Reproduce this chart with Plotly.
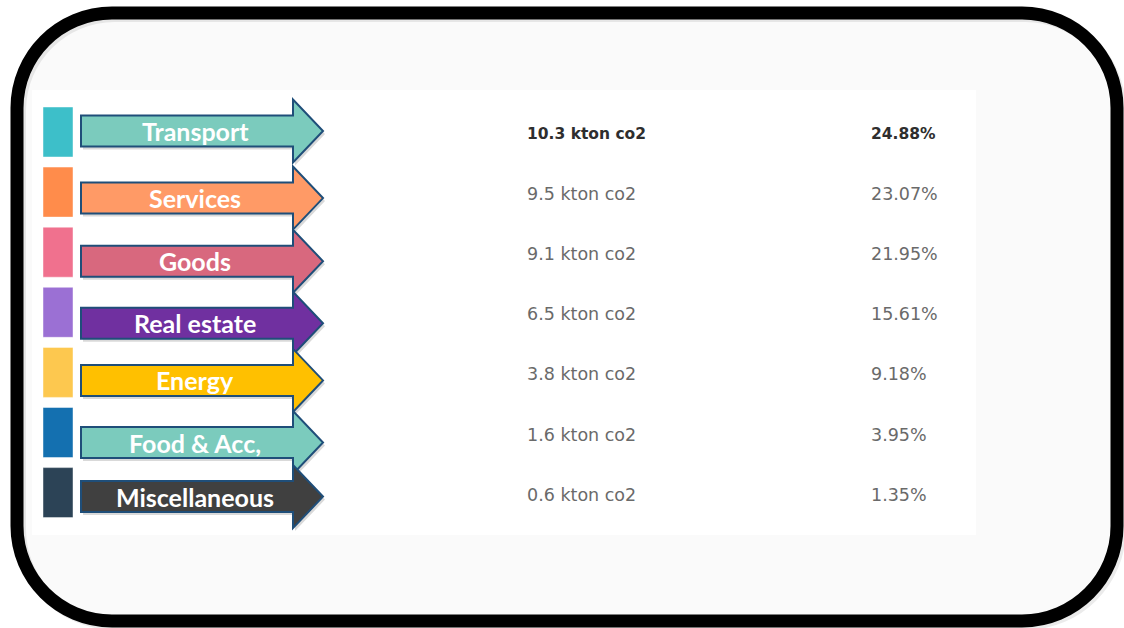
import plotly.graph_objects as go

# ---------------- data ----------------
categories = ["Transport", "Services", "Goods", "Real estate", "Energy", "Food & Acc,", "Miscellaneous"]
emissions_kton = [10.3, 9.5, 9.1, 6.5, 3.8, 1.6, 0.6]
shares_pct = [24.88, 23.07, 21.95, 15.61, 9.18, 3.95, 1.35]
square_colors = ["#3dbfc9", "#ff8c4b", "#f0718e", "#9b70d4", "#fdc84f", "#1470b0", "#2c4356"]
arrow_colors = ["#7bcbbd", "#ff9a66", "#d8687e", "#7030a0", "#ffc000", "#7bcbbd", "#404040"]

# ---------------- layout constants ----------------
W, H = 1124, 628
ROW0, PITCH = 132, 60.1
ARROW_DY = [-1, 6, 9, 11, 8, 10, 4]   # hand-placed arrow offsets
SQ_X0, SQ_X1, SQ_H = 43, 73, 50
AR_X0, AR_HX, AR_TIP, AR_BH, AR_HH = 81, 293, 323, 31, 63
VAL_X, PCT_X = 525, 869


def rrect(x0, y0, x1, y1, r):
    k = 0.5523 * r
    return (f"M{x0+r},{y0} L{x1-r},{y0} C{x1-r+k},{y0} {x1},{y0+r-k} {x1},{y0+r} "
            f"L{x1},{y1-r} C{x1},{y1-r+k} {x1-r+k},{y1} {x1-r},{y1} "
            f"L{x0+r},{y1} C{x0+r-k},{y1} {x0},{y1-r+k} {x0},{y1-r} "
            f"L{x0},{y0+r} C{x0},{y0+r-k} {x0+r-k},{y0} {x0+r},{y0} Z")


def arrow(yc, dx=0, dy=0):
    x0, hx, tip = AR_X0 + dx, AR_HX + dx, AR_TIP + dx
    yc = yc + dy
    b, h = AR_BH / 2, AR_HH / 2
    return (f"M{x0},{yc-b} L{hx},{yc-b} L{hx},{yc-h} L{tip},{yc} "
            f"L{hx},{yc+h} L{hx},{yc+b} L{x0},{yc+b} Z")


shapes = []
# background + frame shadow + black rounded frame
shapes.append(dict(type="path", path=rrect(17, 13, 1117, 621, 95), fillcolor="#fafafa",
                   line=dict(width=0), layer="below"))
shapes.append(dict(type="path", path=rrect(20, 16, 1120, 624, 95), fillcolor="rgba(0,0,0,0)",
                   line=dict(color="rgba(0,0,0,0.08)", width=12), layer="below"))
shapes.append(dict(type="path", path=rrect(17, 13, 1117, 621, 95), fillcolor="rgba(0,0,0,0)",
                   line=dict(color="#000000", width=13), layer="below"))
# white panel
shapes.append(dict(type="rect", x0=32, y0=90, x1=976, y1=535, fillcolor="#ffffff",
                   line=dict(width=0), layer="below"))

annotations = []
for i, cat in enumerate(categories):
    yc = ROW0 + i * PITCH
    # colour square
    shapes.append(dict(type="rect", x0=SQ_X0, x1=SQ_X1, y0=yc - SQ_H / 2, y1=yc + SQ_H / 2,
                       fillcolor=square_colors[i], line=dict(color="rgba(255,255,255,0.45)", width=1)))
for i, cat in enumerate(categories):
    yc = ROW0 + i * PITCH
    ya = yc + ARROW_DY[i]
    # arrow shadow
    shapes.append(dict(type="path", path=arrow(ya, 2, 3), fillcolor="rgba(0,0,0,0.15)",
                       line=dict(width=0)))
    shapes.append(dict(type="path", path=arrow(ya), fillcolor=arrow_colors[i],
                       line=dict(color="#1f4e79", width=2)))
    annotations.append(dict(x=195, y=ya, text=f"<b>{cat}</b>", showarrow=False,
                            xanchor="center", yanchor="middle",
                            font=dict(family="Lato", size=25, color="#ffffff")))
    first = i == 0
    col = "#2e2e2e" if first else "#6a6a6a"
    vtxt = f"{emissions_kton[i]:.1f} kton co2"
    ptxt = f"{shares_pct[i]:.2f}%"
    if first:
        vtxt, ptxt = f"<b>{vtxt}</b>", f"<b>{ptxt}</b>"
    ty = yc + 2
    fsize = 15.5 if first else 17.5
    annotations.append(dict(x=VAL_X, y=ty, text=vtxt, showarrow=False, xanchor="left",
                            yanchor="middle", font=dict(family="DejaVu Sans", size=fsize, color=col)))
    annotations.append(dict(x=PCT_X, y=ty, text=ptxt, showarrow=False, xanchor="left",
                            yanchor="middle", font=dict(family="DejaVu Sans", size=fsize, color=col)))

fig = go.Figure()
fig.add_trace(go.Scatter(x=[0, W], y=[0, H], mode="markers", marker=dict(opacity=0),
                         hoverinfo="skip", showlegend=False))
fig.update_layout(
    width=W, height=H, margin=dict(l=0, r=0, t=0, b=0),
    paper_bgcolor="#ffffff", plot_bgcolor="#ffffff",
    xaxis=dict(range=[0, W], visible=False, fixedrange=True),
    yaxis=dict(range=[H, 0], visible=False, fixedrange=True),
    shapes=shapes, annotations=annotations, showlegend=False,
)
fig.write_html("out.html")
